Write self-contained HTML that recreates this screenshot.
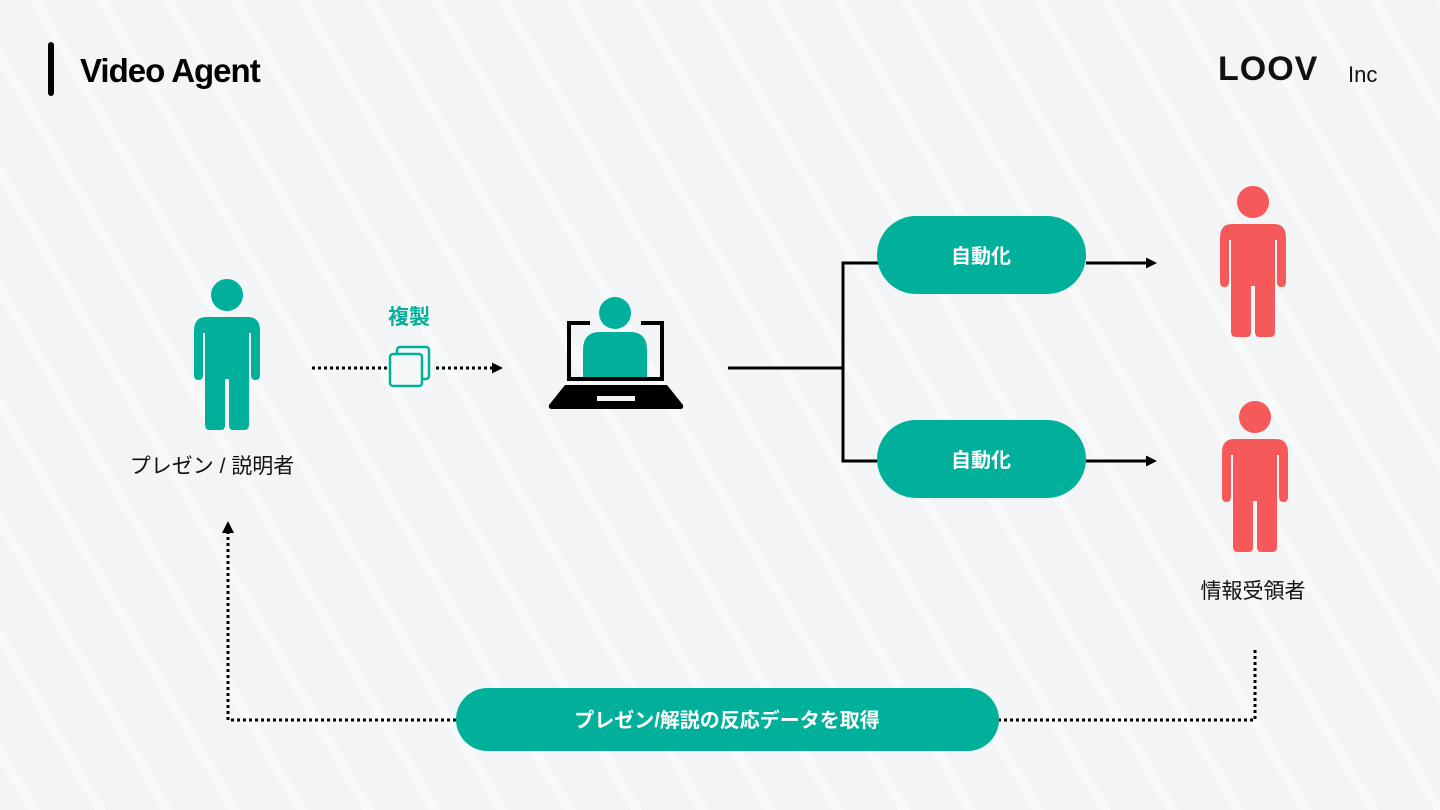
<!DOCTYPE html>
<html><head><meta charset="utf-8"><style>
html,body{margin:0;padding:0}
body{width:1440px;height:810px;overflow:hidden;font-family:"Liberation Sans","Noto Sans CJK JP",sans-serif;
background:#f3f4f5;
background-image:repeating-linear-gradient(60deg,rgba(255,255,255,0) 0 24px,rgba(255,255,255,.45) 24px 34px,rgba(255,255,255,0) 34px 58px);}
svg{position:absolute;left:0;top:0}
</style></head><body>
<svg width="1440" height="810" viewBox="0 0 1440 810" xmlns="http://www.w3.org/2000/svg">
<defs>
<path id="p" d="M12,38 H54 Q66,38 66,52 V96 Q66,101 61.5,101 Q57,101 57,96 V54 H55 V146 Q55,151 50,151 H39 Q35,151 35,146 V100 H31 V146 Q31,151 27,151 H16 Q11,151 11,146 V54 H9 V96 Q9,101 4.5,101 Q0,101 0,96 V52 Q0,38 12,38Z M33,0 a16,16 0 1,0 0.01,0Z"/>
<marker id="ar" markerWidth="11" markerHeight="11" refX="8" refY="5.5" orient="auto" markerUnits="userSpaceOnUse"><path d="M0,0 L11,5.5 L0,11Z" fill="#000"/></marker>
</defs>
<rect x="48" y="42" width="6" height="54" rx="3" fill="#000"/>
<text x="80" y="82" font-size="33" font-weight="bold" fill="#000" style="font-family:'Liberation Sans',sans-serif;letter-spacing:-1px">Video Agent</text>
<text x="1218" y="80" font-size="34" font-weight="bold" fill="#111" letter-spacing="1">LOOV</text>
<text x="1348" y="82" font-size="22" fill="#111">Inc</text>

<use href="#p" x="194" y="279" fill="#00b09b"/>
<use href="#p" x="1220" y="186" fill="#f5595a"/>
<use href="#p" x="1222" y="401" fill="#f5595a"/>
<text x="212" y="473" font-size="21" fill="#111" text-anchor="middle">プレゼン / 説明者</text>
<text x="1253" y="598" font-size="21" fill="#111" text-anchor="middle">情報受領者</text>

<text x="409" y="324" font-size="21" font-weight="bold" fill="#00b09b" text-anchor="middle">複製</text>
<line x1="312" y1="368" x2="388" y2="368" stroke="#000" stroke-width="3" stroke-dasharray="3,3"/>
<line x1="436" y1="368" x2="500" y2="368" stroke="#000" stroke-width="3" stroke-dasharray="3,3" marker-end="url(#ar)"/>
<rect x="388" y="345" width="46" height="46" fill="#f6f7f7"/>
<rect x="397" y="347" width="32" height="32" rx="3" fill="#f6f7f7" stroke="#00b09b" stroke-width="2.5"/>
<rect x="390" y="354" width="32" height="32" rx="3" fill="#f6f7f7" stroke="#00b09b" stroke-width="2.5"/>

<path d="M590,323 H569 V379 H662 V323 H641" fill="none" stroke="#000" stroke-width="4"/>
<circle cx="615" cy="313" r="16" fill="#00b09b"/>
<path d="M583,377 V350 Q583,332 600,332 H630 Q647,332 647,350 V377Z" fill="#00b09b"/>
<path d="M565,385 H667 L683,405 Q684,409 680,409 H552 Q548,409 549,405Z" fill="#000"/>
<rect x="597" y="396" width="38" height="5" fill="#f4f5f6"/>

<polyline points="728,368 843,368" stroke="#000" stroke-width="3" fill="none"/>
<polyline points="880,263 843,263 843,461 880,461" stroke="#000" stroke-width="3" fill="none"/>
<rect x="877" y="216" width="209" height="78" rx="39" fill="#00b09b"/>
<rect x="877" y="420" width="209" height="78" rx="39" fill="#00b09b"/>
<text x="981" y="263" font-size="20" font-weight="bold" fill="#fff" text-anchor="middle">自動化</text>
<text x="981" y="467" font-size="20" font-weight="bold" fill="#fff" text-anchor="middle">自動化</text>
<line x1="1086" y1="263" x2="1154" y2="263" stroke="#000" stroke-width="3" marker-end="url(#ar)"/>
<line x1="1086" y1="461" x2="1154" y2="461" stroke="#000" stroke-width="3" marker-end="url(#ar)"/>

<polyline points="456,720 228,720 228,530" stroke="#000" stroke-width="3" fill="none" stroke-dasharray="3,3"/>
<path d="M222,533 L228,521 L234,533Z" fill="#000"/>
<polyline points="998,720 1255,720 1255,649" stroke="#000" stroke-width="3" fill="none" stroke-dasharray="3,3"/>
<rect x="456" y="688" width="543" height="63" rx="31.5" fill="#00b09b"/>
<text x="727" y="727" font-size="20" font-weight="bold" fill="#fff" text-anchor="middle">プレゼン/解説の反応データを取得</text>
</svg>
</body></html>
